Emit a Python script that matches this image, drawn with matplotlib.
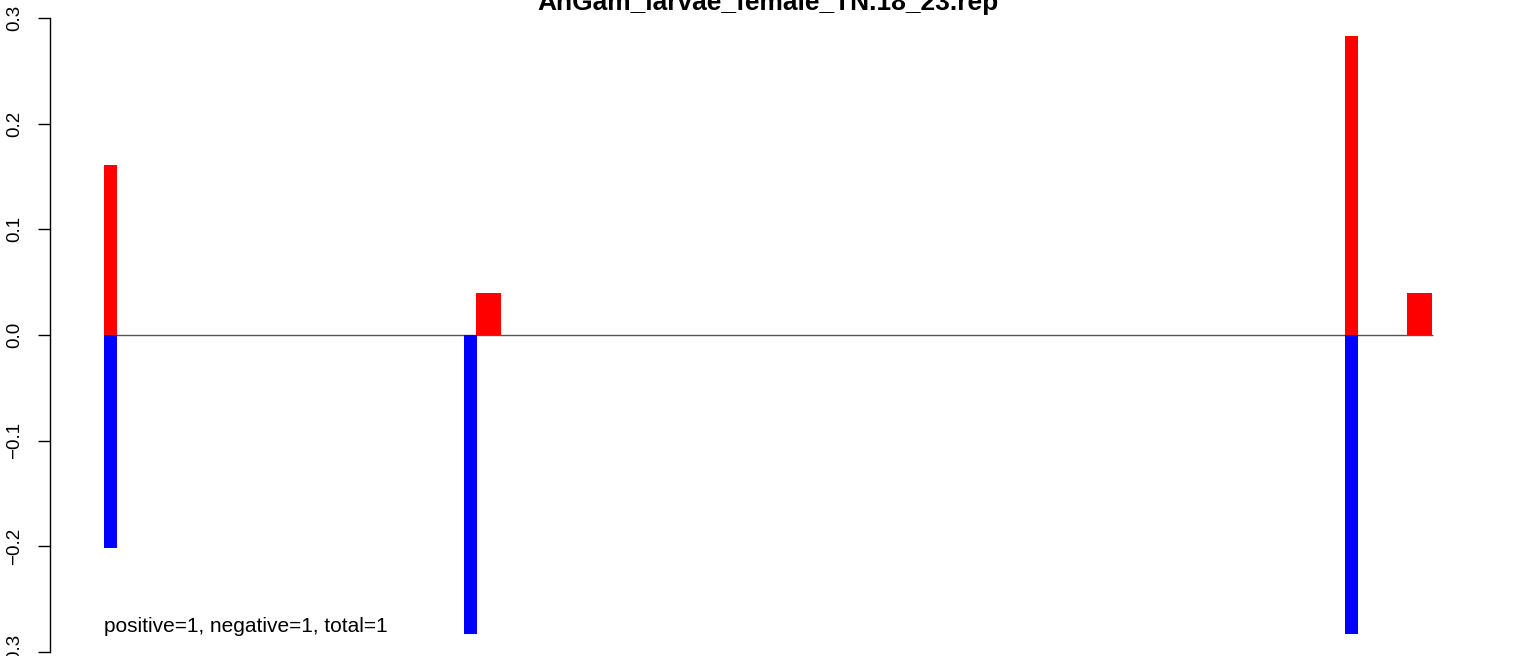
import matplotlib
matplotlib.use("Agg")
import matplotlib.pyplot as plt

# ---- data ----
title = "AnGam_larvae_female_TN.18_23.rep"
note = "positive=1, negative=1, total=1"
# positions (arbitrary units along the track) and values
pos_narrow = [104.0, 464.0, 1345.0]          # left edge of narrow bars
narrow_up = [0.161, 0.0, 0.2825]             # red (positive) part
narrow_down = [-0.202, -0.283, -0.283]       # blue (negative) part
pos_wide = [476.0, 1407.0]                   # left edge of wide bars
wide_up = [0.040, 0.040]
line_start, line_end = 104.0, 1432.5
yticks = [-0.3, -0.2, -0.1, 0.0, 0.1, 0.2, 0.3]
ytick_labels = ["\u22120.3", "\u22120.2", "\u22120.1", "0.0", "0.1", "0.2", "0.3"]

# ---- style ----
plt.rcParams['font.family'] = ['Liberation Sans', 'DejaVu Sans']
W, H = 1536, 656
fig = plt.figure(figsize=(W / 100, H / 100), dpi=100)
x0, x1 = 50, 1486
y_top, y_bot = 18, 652
ax = fig.add_axes([x0 / W, (H - y_bot) / H, (x1 - x0) / W, (y_bot - y_top) / H])
ax.set_xlim(x0, x1)
ax.set_ylim(-0.3, 0.3)

narrow_w = 12.7
wide_w = 25.0
ax.hlines(0, line_start, line_end, color="#555555", linewidth=1.0, zorder=1)
ax.bar(pos_narrow, narrow_up, width=narrow_w, align="edge", color="#FF0000", linewidth=0, zorder=2)
ax.bar(pos_narrow, narrow_down, width=narrow_w, align="edge", color="#0000FF", linewidth=0, zorder=2)
ax.bar(pos_wide, wide_up, width=wide_w, align="edge", color="#FF0000", linewidth=0, zorder=2)

for s in ["top", "right", "bottom"]:
    ax.spines[s].set_visible(False)
ax.spines["left"].set_linewidth(1.0)
ax.set_xticks([])
ax.set_yticks(yticks)
ax.set_yticklabels(ytick_labels, rotation=90, va="center", fontsize=13.5)
ax.tick_params(axis="y", length=8.6, width=1.0, pad=10.5)

ax.text(104, -0.276, note, fontsize=15, ha="left", va="center")
fig.text(0.5, 1 - 10 / H, title, ha="center", va="baseline", fontsize=19, fontweight="bold")

fig.savefig("out.png", dpi=100)
